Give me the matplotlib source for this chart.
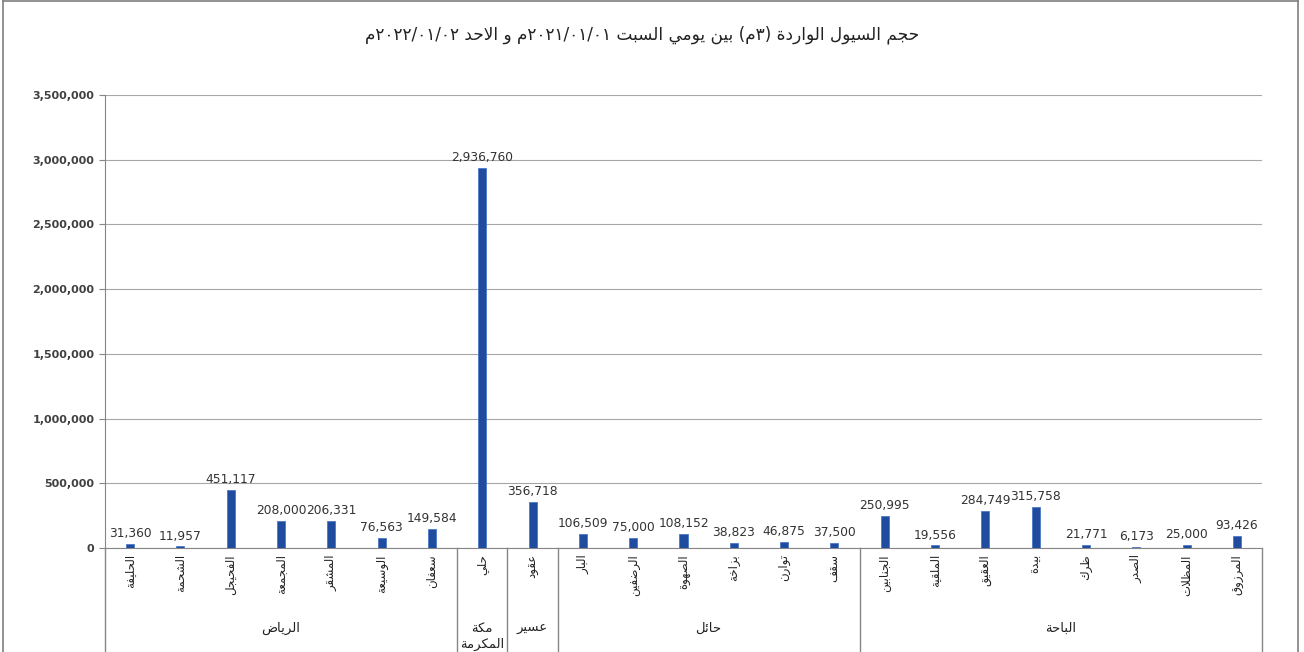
import numpy as np
import matplotlib
matplotlib.use('Agg')
import matplotlib.pyplot as plt
from matplotlib.lines import Line2D
from matplotlib.transforms import blended_transform_factory

plt.rcParams['font.family'] = ['DejaVu Sans']

# --- data ---
riyadh = ['الحليفة', 'الشحمة', 'الفحيجل', 'المجمعة', 'المشقر', 'الوسيعة', 'سعفان']
riyadh_v = [31360, 11957, 451117, 208000, 206331, 76563, 149584]
makkah = ['حلي']
makkah_v = [2936760]
asir = ['عقود']
asir_v = [356718]
hail = ['البار', 'الرضفين', 'الصهوة', 'بزاخة', 'توارن', 'سقف']
hail_v = [106509, 75000, 108152, 38823, 46875, 37500]
baha = ['الجنابين', 'الملقية', 'العقيق', 'بيدة', 'ظرك', 'الصدر', 'المظلات', 'المرزوق']
baha_v = [250995, 19556, 284749, 315758, 21771, 6173, 25000, 93426]
groups = ['الرياض', 'مكة\nالمكرمة', 'عسير', 'حائل', 'الباحة']

cats = riyadh + makkah + asir + hail + baha
vals = riyadh_v + makkah_v + asir_v + hail_v + baha_v
sizes = [len(riyadh), len(makkah), len(asir), len(hail), len(baha)]

# --- simple arabic shaping (matplotlib has no shaping / bidi) ---
TABLE = {'ء': (0xFE80, 1), 'آ': (0xFE81, 2), 'أ': (0xFE83, 2), 'ؤ': (0xFE85, 2),
         'إ': (0xFE87, 2), 'ئ': (0xFE89, 4), 'ا': (0xFE8D, 2), 'ب': (0xFE8F, 4),
         'ة': (0xFE93, 2), 'ت': (0xFE95, 4), 'ث': (0xFE99, 4), 'ج': (0xFE9D, 4),
         'ح': (0xFEA1, 4), 'خ': (0xFEA5, 4), 'د': (0xFEA9, 2), 'ذ': (0xFEAB, 2),
         'ر': (0xFEAD, 2), 'ز': (0xFEAF, 2), 'س': (0xFEB1, 4), 'ش': (0xFEB5, 4),
         'ص': (0xFEB9, 4), 'ض': (0xFEBD, 4), 'ط': (0xFEC1, 4), 'ظ': (0xFEC5, 4),
         'ع': (0xFEC9, 4), 'غ': (0xFECD, 4), 'ف': (0xFED1, 4), 'ق': (0xFED5, 4),
         'ك': (0xFED9, 4), 'ل': (0xFEDD, 4), 'م': (0xFEE1, 4), 'ن': (0xFEE5, 4),
         'ه': (0xFEE9, 4), 'و': (0xFEED, 2), 'ى': (0xFEEF, 2), 'ي': (0xFEF1, 4)}
LAM_ALEF = {'آ': 0xFEF5, 'أ': 0xFEF7, 'إ': 0xFEF9, 'ا': 0xFEFB}


def shape(word):
    out = []
    i = 0
    n = len(word)
    prev = False
    while i < n:
        c = word[i]
        if c not in TABLE:
            out.append(c)
            prev = False
            i += 1
            continue
        if c == 'ل' and i + 1 < n and word[i + 1] in LAM_ALEF:
            out.append(chr(LAM_ALEF[word[i + 1]] + (1 if prev else 0)))
            prev = False
            i += 2
            continue
        start, nf = TABLE[c]
        nxt = nf == 4 and i + 1 < n and word[i + 1] in TABLE
        if prev and nxt:
            k = 3
        elif prev:
            k = 1 if nf > 1 else 0
        elif nxt:
            k = 2
        else:
            k = 0
        out.append(chr(start + k))
        prev = nxt
        i += 1
    return ''.join(out)


def ar(s):
    return '\n'.join(shape(line)[::-1] for line in s.split('\n'))


m = shape('م')
title = ' '.join([m + '٢٠٢٢/٠١/٠٢', ar('الاحد'), ar('و'), m + '٢٠٢١/٠١/٠١',
                  ar('بين يومي السبت'), '(' + m + '٣)', ar('حجم السيول الواردة')])

# --- figure ---
fig = plt.figure(figsize=(13.04, 6.52), dpi=100)
fig.patch.set_facecolor('white')
ax = fig.add_axes([0.0805, 0.1595, 0.8873, 0.6948])

x = np.arange(len(cats))
ax.bar(x, vals, width=0.16, color='#1f4c9e', edgecolor='#4a78c8', linewidth=0.6, zorder=3)
ax.set_xlim(-0.5, len(cats) - 0.5)
ax.set_ylim(0, 3500000)
ax.set_yticks(np.arange(0, 3500001, 500000))
ax.set_yticklabels(['{:,}'.format(v) for v in range(0, 3500001, 500000)],
                   fontsize=8, fontweight='bold', color='#404040')
ax.yaxis.grid(True, color='#a6a6a6', linewidth=0.8, zorder=0)
ax.set_xticks([])
for s in ['top', 'right']:
    ax.spines[s].set_visible(False)
ax.spines['left'].set_color('#868686')
ax.spines['bottom'].set_color('#868686')
ax.tick_params(axis='y', length=4, color='#868686')

for xi, v in zip(x, vals):
    ax.text(xi, v + 30000, '{:,}'.format(v), ha='center', va='bottom', fontsize=8.8, color='#333333')

tr = blended_transform_factory(ax.transData, fig.transFigure)
for xi, c in zip(x, cats):
    ax.text(xi, 0.150, ar(c), rotation=90, ha='center', va='top', fontsize=8.5,
            color='#222222', transform=tr, clip_on=False)

# group separators and group labels
bounds = np.concatenate([[0], np.cumsum(sizes)]) - 0.5
for b in bounds:
    ax.add_line(Line2D([b, b], [0, 0.1595], transform=tr, color='#868686',
                       linewidth=1, clip_on=False))
for i, g in enumerate(groups):
    cx = (bounds[i] + bounds[i + 1]) / 2
    ax.text(cx, 0.046, ar(g), ha='center', va='top', fontsize=9.5, color='#222222',
            transform=tr, clip_on=False, linespacing=1.3)

fig.text(0.492, 0.946, title, ha='center', va='center', fontsize=12.2, color='#222222')

# outer chart border
for xs, ys in [([0.0025, 0.0025], [0, 0.998]), ([0.9955, 0.9955], [0, 0.998]),
               ([0.0025, 0.9955], [0.998, 0.998])]:
    fig.add_artist(Line2D(xs, ys, transform=fig.transFigure, color='#7f7f7f', linewidth=1.2))

fig.savefig('out.png', dpi=100)
